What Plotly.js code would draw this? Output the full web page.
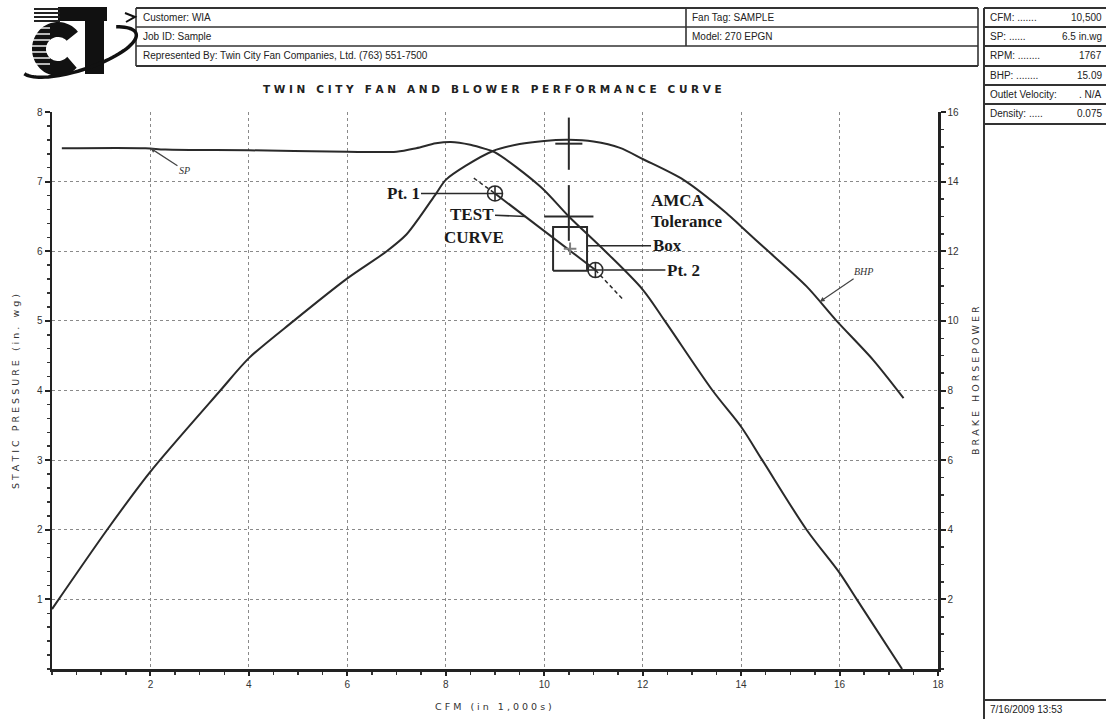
<!DOCTYPE html>
<html>
<head>
<meta charset="utf-8">
<script src="https://cdn.plot.ly/plotly-3.0.1.min.js"></script>
<style>
  html, body { margin:0; padding:0; background:#fff; }
  #chart { width:1106px; height:719px; }
</style>
</head>
<body>
<div id="chart"></div>
<script>
// ---------------- DATA ----------------
// Static pressure curve (CFM in 1,000s, SP in in. wg)
const spCFM = [0.2, 1.9, 2.3, 4.0, 6.0, 7.0, 7.4, 7.8, 8.1, 8.5, 8.8, 9.0, 9.92, 10.5, 11.24, 12.0, 12.45, 13.42, 14.0, 14.43, 15.33, 16.0, 16.35, 17.27];
const spVals = [7.48, 7.48, 7.46, 7.45, 7.43, 7.43, 7.48, 7.55, 7.57, 7.53, 7.47, 7.42, 6.93, 6.5, 6.0, 5.45, 5.0, 4.0, 3.48, 3.0, 2.0, 1.38, 1.0, 0.0];
// Brake horsepower curve
const bhpCFM = [0.0, 1.12, 2.0, 3.42, 4.0, 4.91, 6.0, 6.8, 7.2, 7.48, 7.8, 8.0, 8.4, 8.96, 9.5, 10.0, 10.5, 11.0, 11.54, 12.0, 12.83, 13.7, 14.0, 14.52, 15.33, 15.94, 16.68, 17.3];
const bhpVals = [1.72, 4.0, 5.67, 8.0, 8.93, 10.0, 11.22, 12.0, 12.48, 13.0, 13.65, 14.05, 14.45, 14.88, 15.08, 15.17, 15.2, 15.15, 14.97, 14.65, 14.05, 13.1, 12.71, 12.04, 10.99, 10.0, 8.88, 7.78];
// Test curve (dashed ends, solid between Pt. 1 and Pt. 2)
const testCFM = [8.57, 9.0, 11.04, 11.61];
const testSP  = [7.05, 6.83, 5.73, 5.30];
const pointCFM = [9.0, 11.04];
const pointSP  = [6.83, 5.73];
const pointLabels = ['Pt. 1', 'Pt. 2'];
// AMCA tolerance box
const boxCFM = [10.18, 10.87];
const boxSP  = [5.72, 6.35];
// Operating point
const opCFM = 10.5, opSP = 6.5, opBHP = 15.09;
// Axis ticks
const xTicks  = [2, 4, 6, 8, 10, 12, 14, 16, 18];
const yTicks  = [1, 2, 3, 4, 5, 6, 7, 8];
const y2Ticks = [2, 4, 6, 8, 10, 12, 14, 16];
// Header texts
const headerLeft  = ['Customer: WIA', 'Job ID: Sample', 'Represented By: Twin City Fan Companies, Ltd. (763) 551-7500'];
const headerMid   = ['Fan Tag: SAMPLE', 'Model: 270 EPGN'];
const panelLabels = ['CFM: .......', 'SP: ......', 'RPM: ........', 'BHP: ........', 'Outlet Velocity:', 'Density: .....'];
const panelValues = ['10,500', '6.5 in.wg', '1767', '15.09', '. N/A', '0.075'];
const dateText = '7/16/2009 13:53';
const chartTitle = 'TWIN CITY FAN AND BLOWER PERFORMANCE CURVE';
const xTitle = 'CFM (in 1,000s)';
const yTitle = 'STATIC PRESSURE (in. wg)';
const y2Title = 'BRAKE HORSEPOWER';

// ---------------- HELPERS ----------------
const PL = 52, PR = 938, PT = 112, PB = 669;
const fx = x => (x - PL) / (PR - PL);
const fy = y => (PB - y) / (PB - PT);
function spaced(s) {
  return s.split(' ').map(w => w.split('').join('\u00A0')).join('\u00A0\u00A0\u00A0');
}
function pathFromPts(pts, close) {
  return pts.map((p, i) => (i ? 'L' : 'M') + fx(p[0]).toFixed(5) + ',' + fy(p[1]).toFixed(5)).join(' ') + (close ? ' Z' : '');
}
const INK = '#2a2a2a';

// ---------------- TRACES ----------------
const traces = [];
traces.push({x: spCFM, y: spVals, mode: 'lines', line: {color: INK, width: 2, shape: 'spline', smoothing: 0.9}, hoverinfo: 'skip', name: 'SP'});
traces.push({x: bhpCFM, y: bhpVals, yaxis: 'y2', mode: 'lines', line: {color: INK, width: 2, shape: 'spline', smoothing: 0.8}, hoverinfo: 'skip', name: 'BHP'});
traces.push({x: testCFM.slice(0, 2), y: testSP.slice(0, 2), mode: 'lines', line: {color: INK, width: 1.5, dash: '4px,3px'}, hoverinfo: 'skip'});
traces.push({x: testCFM.slice(1, 3), y: testSP.slice(1, 3), mode: 'lines', line: {color: INK, width: 2}, hoverinfo: 'skip'});
traces.push({x: testCFM.slice(2, 4), y: testSP.slice(2, 4), mode: 'lines', line: {color: INK, width: 1.5, dash: '4px,3px'}, hoverinfo: 'skip'});
traces.push({x: pointCFM, y: pointSP, mode: 'markers', marker: {symbol: 'circle-cross-open', size: 15, color: INK, line: {width: 1.6, color: INK}}, hoverinfo: 'skip'});
// tolerance box
traces.push({x: [boxCFM[0], boxCFM[1], boxCFM[1], boxCFM[0], boxCFM[0]], y: [boxSP[0], boxSP[0], boxSP[1], boxSP[1], boxSP[0]], mode: 'lines', line: {color: INK, width: 2}, hoverinfo: 'skip'});
traces.push({x: [(boxCFM[0] + boxCFM[1]) / 2], y: [(boxSP[0] + boxSP[1]) / 2], mode: 'markers', marker: {symbol: 'cross-thin-open', size: 9, line: {width: 2, color: INK}}, hoverinfo: 'skip'});
// crosshairs at operating point
const armX = 0.5, armUp = 0.45, armDn = 0.35, armB = 0.75;
traces.push({x: [opCFM - armX, opCFM + armX, null, opCFM, opCFM], y: [opSP, opSP, null, opSP + armUp, opSP - armDn], mode: 'lines', line: {color: INK, width: 2}, hoverinfo: 'skip'});
traces.push({x: [opCFM - armX * 0.55, opCFM + armX * 0.55, null, opCFM, opCFM], y: [opBHP, opBHP, null, opBHP + armB, opBHP - armB], yaxis: 'y2', mode: 'lines', line: {color: INK, width: 2}, hoverinfo: 'skip'});

// ---------------- SHAPES ----------------
const shapes = [];
function hline(x0, x1, y, w, c) { shapes.push({type: 'line', xref: 'paper', yref: 'paper', x0: fx(x0), x1: fx(x1), y0: fy(y), y1: fy(y), line: {color: c || '#333', width: w || 1.6}}); }
function vline(x, y0, y1, w) { shapes.push({type: 'line', xref: 'paper', yref: 'paper', x0: fx(x), x1: fx(x), y0: fy(y0), y1: fy(y1), line: {color: '#333', width: w || 1.6}}); }
// main header box
const hbX0 = 136, hbX1 = 978, hbRows = [8, 27, 46, 66], hbDiv = 686;
hbRows.forEach((y, i) => hline(hbX0, hbX1, y, (i === 0 || i === 3) ? 2 : 1.6));
vline(hbX0, hbRows[0], hbRows[3]);
vline(hbX1, hbRows[0], hbRows[3]);
vline(hbDiv, hbRows[0], hbRows[2]);
// right panel
const pnX0 = 984, pnX1 = 1110, pnRows = [8, 27, 46, 66, 85, 104, 124];
pnRows.forEach(y => hline(pnX0, pnX1, y, 1.8));
vline(pnX0, pnRows[0], 719, 2);
hline(pnX0, pnX1, 700, 2);
// logo (drawn with shapes)
const C = [];
const cx = 58, cy = 49;
for (let a = 40; a <= 320; a += 6) { const r = a * Math.PI / 180; C.push([cx + 26 * Math.cos(r), cy - 27 * Math.sin(r)]); }
for (let a = 320; a >= 40; a -= 6) { const r = a * Math.PI / 180; C.push([cx + 12 * Math.cos(r), cy - 12 * Math.sin(r)]); }
shapes.push({type: 'path', xref: 'paper', yref: 'paper', path: pathFromPts(C, true), fillcolor: '#111', line: {width: 0}});
shapes.push({type: 'path', xref: 'paper', yref: 'paper', path: pathFromPts([[58, 7], [107, 7], [107, 21], [58, 21]], true), fillcolor: '#111', line: {width: 0}});
shapes.push({type: 'path', xref: 'paper', yref: 'paper', path: pathFromPts([[85, 21], [104, 21], [104, 74], [85, 74]], true), fillcolor: '#111', line: {width: 0}});
[28, 34, 40, 46, 52, 58, 64].forEach(y => hline(30, 50, y, 1.4, '#fff'));
[9, 13, 17, 21].forEach(y => hline(34, 60, y, 2, '#222'));
const sw = [];
const th = -18 * Math.PI / 180;
for (let t = 168; t >= -44; t -= 4) {
  const r = t * Math.PI / 180;
  sw.push([79 + 60 * Math.cos(r) * Math.cos(th) - 18 * Math.sin(r) * Math.sin(th), 52 + 60 * Math.cos(r) * Math.sin(th) + 18 * Math.sin(r) * Math.cos(th)]);
}
shapes.push({type: 'path', xref: 'paper', yref: 'paper', path: pathFromPts(sw, false), line: {color: '#111', width: 3.5}});
shapes.push({type: 'path', xref: 'paper', yref: 'paper', path: pathFromPts([[125, 13], [135, 17], [126, 22]], false), line: {color: '#111', width: 2}});

// ---------------- ANNOTATIONS ----------------
const ann = [];
const hdrFont = {family: 'Liberation Sans, Arial, sans-serif', size: 10, color: '#222'};
headerLeft.forEach((t, i) => ann.push({xref: 'paper', yref: 'paper', x: fx(141), y: fy((hbRows[i] + hbRows[i + 1]) / 2), xanchor: 'left', yanchor: 'middle', text: t, showarrow: false, font: hdrFont}));
headerMid.forEach((t, i) => ann.push({xref: 'paper', yref: 'paper', x: fx(690), y: fy((hbRows[i] + hbRows[i + 1]) / 2), xanchor: 'left', yanchor: 'middle', text: t, showarrow: false, font: hdrFont}));
panelLabels.forEach((t, i) => {
  const yc = fy((pnRows[i] + pnRows[i + 1]) / 2);
  ann.push({xref: 'paper', yref: 'paper', x: fx(988), y: yc, xanchor: 'left', yanchor: 'middle', text: t, showarrow: false, font: hdrFont});
  ann.push({xref: 'paper', yref: 'paper', x: fx(1104), y: yc, xanchor: 'right', yanchor: 'middle', text: panelValues[i], showarrow: false, font: hdrFont});
});
ann.push({xref: 'paper', yref: 'paper', x: fx(988), y: fy(709.5), xanchor: 'left', yanchor: 'middle', text: dateText, showarrow: false, font: hdrFont});
// titles
const titleFont = {family: 'DejaVu Sans, sans-serif', size: 10.5, color: '#222'};
ann.push({xref: 'paper', yref: 'paper', x: fx(492), y: fy(89), xanchor: 'center', yanchor: 'middle', text: '<b>' + spaced(chartTitle) + '</b>', showarrow: false, font: titleFont});
const axTitleFont = {family: 'DejaVu Sans, sans-serif', size: 9.5, color: '#333'};
ann.push({xref: 'paper', yref: 'paper', x: fx(493), y: fy(706), xanchor: 'center', yanchor: 'middle', text: spaced(xTitle), showarrow: false, font: axTitleFont});
ann.push({xref: 'paper', yref: 'paper', x: fx(15), y: fy(392), xanchor: 'center', yanchor: 'middle', textangle: -90, text: spaced(yTitle), showarrow: false, font: axTitleFont});
ann.push({xref: 'paper', yref: 'paper', x: fx(975), y: fy(380), xanchor: 'center', yanchor: 'middle', textangle: -90, text: spaced(y2Title), showarrow: false, font: axTitleFont});
// callouts
const calloutFont = {family: 'Liberation Serif, Times New Roman, serif', size: 17, color: '#1a1a1a'};
ann.push({x: pointCFM[0], y: pointSP[0], xref: 'x', yref: 'y', text: '<b>' + pointLabels[0] + '</b>', showarrow: true, arrowhead: 0, arrowwidth: 1.6, arrowcolor: INK, ax: -92, ay: 0, standoff: 8, font: calloutFont});
ann.push({x: pointCFM[1], y: pointSP[1], xref: 'x', yref: 'y', text: '<b>' + pointLabels[1] + '</b>', showarrow: true, arrowhead: 0, arrowwidth: 1.6, arrowcolor: INK, ax: 88, ay: 0, standoff: 8, font: calloutFont});
ann.push({x: 9.62, y: 6.50, xref: 'x', yref: 'y', text: '<b>TEST</b>', showarrow: true, arrowhead: 0, arrowwidth: 1.6, arrowcolor: INK, ax: -54, ay: -2, font: calloutFont});
ann.push({xref: 'paper', yref: 'paper', x: fx(474), y: fy(237), xanchor: 'center', yanchor: 'middle', text: '<b>CURVE</b>', showarrow: false, font: calloutFont});
ann.push({xref: 'paper', yref: 'paper', x: fx(649), y: fy(200), xanchor: 'left', yanchor: 'middle', text: '<b>AMCA</b>', showarrow: false, font: calloutFont});
ann.push({xref: 'paper', yref: 'paper', x: fx(649), y: fy(222), xanchor: 'left', yanchor: 'middle', text: '<b>Tolerance</b>', showarrow: false, font: calloutFont});
ann.push({x: boxCFM[1], y: 6.08, xref: 'x', yref: 'y', text: '<b>Box</b>', showarrow: true, arrowhead: 0, arrowwidth: 1.6, arrowcolor: INK, ax: 80, ay: 0, font: calloutFont});
const smallFont = {family: 'Liberation Serif, serif', size: 10, color: '#333', style: 'italic'};
ann.push({x: 2.0, y: 7.48, xref: 'x', yref: 'y', text: '<i>SP</i>', showarrow: true, arrowhead: 2, arrowsize: 0.8, arrowwidth: 1.2, arrowcolor: '#444', ax: 34, ay: 22, font: smallFont});
ann.push({x: 15.6, y: 10.55, xref: 'x', yref: 'y2', text: '<i>BHP</i>', showarrow: true, arrowhead: 2, arrowsize: 0.8, arrowwidth: 1.2, arrowcolor: '#444', ax: 44, ay: -30, font: smallFont});

// ---------------- LAYOUT ----------------
const tickFont = {family: 'Liberation Sans, Arial, sans-serif', size: 10, color: '#333'};
const layout = {
  width: 1106, height: 719,
  margin: {l: PL, r: 1106 - PR, t: PT, b: 719 - PB, pad: 0},
  paper_bgcolor: '#ffffff', plot_bgcolor: '#ffffff',
  showlegend: false,
  xaxis: {range: [0, 18], tickvals: xTicks, ticktext: xTicks.map(String), showgrid: true, gridcolor: '#8a8a8a', griddash: 'dot', gridwidth: 1,
    showline: true, linecolor: '#222', linewidth: 2.5, ticks: 'outside', ticklen: 4, tickwidth: 2, tickcolor: '#222', tickfont: tickFont, zeroline: false,
    minor: {dtick: 0.5, ticks: 'outside', ticklen: 3, tickwidth: 1.5, tickcolor: '#333', showgrid: false}, fixedrange: true},
  yaxis: {range: [0, 8], tickvals: yTicks, ticktext: yTicks.map(String), showgrid: true, gridcolor: '#8a8a8a', griddash: 'dot', gridwidth: 1,
    showline: true, linecolor: '#222', linewidth: 2.5, ticks: 'outside', ticklen: 5, tickwidth: 2, tickcolor: '#222', tickfont: tickFont, zeroline: false,
    minor: {dtick: 0.2, ticks: 'outside', ticklen: 3, tickwidth: 1.5, tickcolor: '#333', showgrid: false}, fixedrange: true},
  yaxis2: {range: [0, 16], overlaying: 'y', side: 'right', tickvals: y2Ticks, ticktext: y2Ticks.map(String), showgrid: false,
    showline: true, linecolor: '#222', linewidth: 2.5, ticks: 'outside', ticklen: 5, tickwidth: 2, tickcolor: '#222', tickfont: tickFont, zeroline: false,
    minor: {dtick: 0.5, ticks: 'outside', ticklen: 3, tickwidth: 1.5, tickcolor: '#333'}, fixedrange: true},
  shapes: shapes,
  annotations: ann
};
Plotly.newPlot('chart', traces, layout, {displayModeBar: false, staticPlot: true});
</script>
</body>
</html>
